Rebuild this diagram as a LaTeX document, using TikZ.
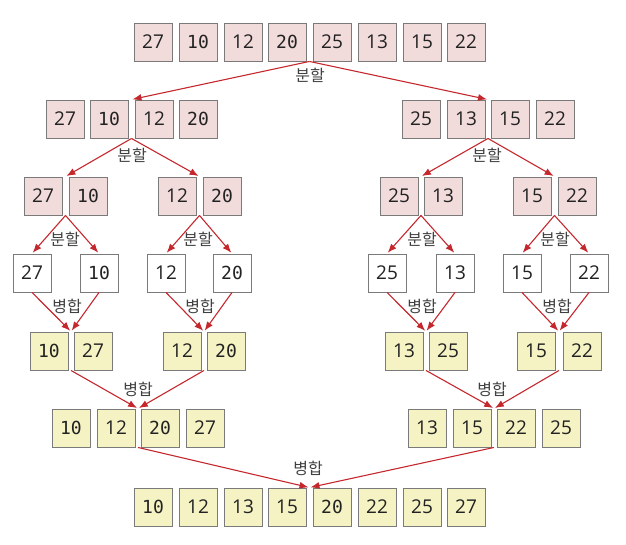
\documentclass[tikz,border=0pt]{standalone}
\usepackage{fontspec}
\setmainfont{Open Sans}
\newfontfamily\krfont{Noto Sans CJK KR}
\newfontfamily\monofont{DejaVu Sans Mono}
\usetikzlibrary{arrows.meta,calc}
\definecolor{pinkfill}{HTML}{F2DCDB}
\definecolor{yelfill}{HTML}{F5F3C4}
\definecolor{boxline}{HTML}{7A7A7A}
\definecolor{arrred}{HTML}{C4282D}
\definecolor{numtxt}{HTML}{222222}
\definecolor{lbltxt}{HTML}{404040}
\newcommand{\mz}[1]{{\monofont\fontsize{18}{18}\selectfont #1}}
\tikzset{
  cell/.style={draw=boxline, line width=0.9pt, minimum width=38pt, minimum height=38pt,
    inner sep=0pt, text=numtxt, font=\fontsize{19}{19}\selectfont},
  pk/.style={cell, fill=pinkfill},
  yl/.style={cell, fill=yelfill},
  wt/.style={cell, fill=white},
  lbl/.style={text=lbltxt, font=\krfont\fontsize{16}{16}\selectfont, inner sep=0pt},
  arr/.style={draw=arrred, line width=1.1pt, -{Latex[length=9pt,width=7pt]}, shorten >=1pt}
}
\begin{document}
\begin{tikzpicture}[x=1pt,y=-1pt]
\useasboundingbox (0,0) rectangle (626,544);
% row 1
\node[pk] (r1a) at (153,42) {27};
\node[pk] (r1b) at (198,42) {\mz{10}};
\node[pk] (r1c) at (243,42) {12};
\node[pk] (r1d) at (287,42) {\mz{20}};
\node[pk] (r1e) at (332,42) {25};
\node[pk] (r1f) at (377,42) {13};
\node[pk] (r1g) at (422,42) {15};
\node[pk] (r1h) at (466,42) {22};
% row 2
\node[pk] (r2a) at (65,119) {27};
\node[pk] (r2b) at (109,119) {\mz{10}};
\node[pk] (r2c) at (154,119) {12};
\node[pk] (r2d) at (198,119) {\mz{20}};
\node[pk] (r2e) at (421,119) {25};
\node[pk] (r2f) at (466,119) {13};
\node[pk] (r2g) at (510,119) {15};
\node[pk] (r2h) at (555,119) {22};
% row 3
\node[pk] (r3a) at (43,196) {27};
\node[pk] (r3b) at (88,196) {\mz{10}};
\node[pk] (r3c) at (177,196) {12};
\node[pk] (r3d) at (222,196) {\mz{20}};
\node[pk] (r3e) at (399,196) {25};
\node[pk] (r3f) at (443,196) {13};
\node[pk] (r3g) at (532,196) {15};
\node[pk] (r3h) at (577,196) {22};
% row 4
\node[wt] (r4a) at (32,273) {27};
\node[wt] (r4b) at (99,273) {\mz{10}};
\node[wt] (r4c) at (166,273) {12};
\node[wt] (r4d) at (232,273) {\mz{20}};
\node[wt] (r4e) at (387,273) {25};
\node[wt] (r4f) at (455,273) {13};
\node[wt] (r4g) at (522,273) {15};
\node[wt] (r4h) at (589,273) {22};
% row 5
\node[yl] (r5a) at (49,351) {\mz{10}};
\node[yl] (r5b) at (93,351) {27};
\node[yl] (r5c) at (182,351) {12};
\node[yl] (r5d) at (226,351) {\mz{20}};
\node[yl] (r5e) at (404,351) {13};
\node[yl] (r5f) at (448,351) {25};
\node[yl] (r5g) at (536,351) {15};
\node[yl] (r5h) at (582,351) {22};
% row 6
\node[yl] (r6a) at (71,428) {\mz{10}};
\node[yl] (r6b) at (116,428) {12};
\node[yl] (r6c) at (160,428) {\mz{20}};
\node[yl] (r6d) at (205,428) {27};
\node[yl] (r6e) at (427,428) {13};
\node[yl] (r6f) at (472,428) {15};
\node[yl] (r6g) at (516,428) {22};
\node[yl] (r6h) at (561,428) {25};
% row 7
\node[yl] (r7a) at (153,507) {\mz{10}};
\node[yl] (r7b) at (198,507) {12};
\node[yl] (r7c) at (243,507) {13};
\node[yl] (r7d) at (287,507) {15};
\node[yl] (r7e) at (332,507) {\mz{20}};
\node[yl] (r7f) at (377,507) {22};
\node[yl] (r7g) at (422,507) {25};
\node[yl] (r7h) at (466,507) {27};
% coordinates
\coordinate (s1) at ($(r1d.south east)!0.5!(r1e.south west)$);
\coordinate (t2l) at ($(r2b.north east)!0.5!(r2c.north west)$);
\coordinate (t2r) at ($(r2f.north east)!0.5!(r2g.north west)$);
\coordinate (s2l) at ($(r2b.south east)!0.5!(r2c.south west)$);
\coordinate (s2r) at ($(r2f.south east)!0.5!(r2g.south west)$);
\coordinate (t3a) at ($(r3a.north east)!0.5!(r3b.north west)$);
\coordinate (t3b) at ($(r3c.north east)!0.5!(r3d.north west)$);
\coordinate (t3c) at ($(r3e.north east)!0.5!(r3f.north west)$);
\coordinate (t3d) at ($(r3g.north east)!0.5!(r3h.north west)$);
\coordinate (s3a) at ($(r3a.south east)!0.5!(r3b.south west)$);
\coordinate (s3b) at ($(r3c.south east)!0.5!(r3d.south west)$);
\coordinate (s3c) at ($(r3e.south east)!0.5!(r3f.south west)$);
\coordinate (s3d) at ($(r3g.south east)!0.5!(r3h.south west)$);
\coordinate (t5a) at ($(r5a.north east)!0.5!(r5b.north west)$);
\coordinate (t5b) at ($(r5c.north east)!0.5!(r5d.north west)$);
\coordinate (t5c) at ($(r5e.north east)!0.5!(r5f.north west)$);
\coordinate (t5d) at ($(r5g.north east)!0.5!(r5h.north west)$);
\coordinate (s5a) at ($(r5a.south east)!0.5!(r5b.south west)$);
\coordinate (s5b) at ($(r5c.south east)!0.5!(r5d.south west)$);
\coordinate (s5c) at ($(r5e.south east)!0.5!(r5f.south west)$);
\coordinate (s5d) at ($(r5g.south east)!0.5!(r5h.south west)$);
\coordinate (t6l) at ($(r6b.north east)!0.5!(r6c.north west)$);
\coordinate (t6r) at ($(r6f.north east)!0.5!(r6g.north west)$);
\coordinate (s6l) at ($(r6b.south east)!0.5!(r6c.south west)$);
\coordinate (s6r) at ($(r6f.south east)!0.5!(r6g.south west)$);
\coordinate (t7) at ($(r7d.north east)!0.5!(r7e.north west)$);
% arrows: split
\draw[arr] (s1) -- (t2l);
\draw[arr] (s1) -- (t2r);
\draw[arr] (s2l) -- (t3a);
\draw[arr] (s2l) -- (t3b);
\draw[arr] (s2r) -- (t3c);
\draw[arr] (s2r) -- (t3d);
\draw[arr] (s3a) -- (r4a.north);
\draw[arr] (s3a) -- (r4b.north);
\draw[arr] (s3b) -- (r4c.north);
\draw[arr] (s3b) -- (r4d.north);
\draw[arr] (s3c) -- (r4e.north);
\draw[arr] (s3c) -- (r4f.north);
\draw[arr] (s3d) -- (r4g.north);
\draw[arr] (s3d) -- (r4h.north);
% arrows: merge
\draw[arr] (r4a.south) -- (t5a);
\draw[arr] (r4b.south) -- (t5a);
\draw[arr] (r4c.south) -- (t5b);
\draw[arr] (r4d.south) -- (t5b);
\draw[arr] (r4e.south) -- (t5c);
\draw[arr] (r4f.south) -- (t5c);
\draw[arr] (r4g.south) -- (t5d);
\draw[arr] (r4h.south) -- (t5d);
\draw[arr] (s5a) -- (t6l);
\draw[arr] (s5b) -- (t6l);
\draw[arr] (s5c) -- (t6r);
\draw[arr] (s5d) -- (t6r);
\draw[arr] (s6l) -- (t7);
\draw[arr] (s6r) -- (t7);
% labels
\node[lbl] (l1) at (310,75) {분할};
\node[lbl] (l2a) at (132,155) {분할};
\node[lbl] (l2b) at (487,155) {분할};
\node[lbl] (l3a) at (65,239) {분할};
\node[lbl] (l3b) at (198,239) {분할};
\node[lbl] (l3c) at (422,239) {분할};
\node[lbl] (l3d) at (555,239) {분할};
\node[lbl] (l4a) at (67,306) {병합};
\node[lbl] (l4b) at (200,306) {병합};
\node[lbl] (l4c) at (422,306) {병합};
\node[lbl] (l4d) at (557,306) {병합};
\node[lbl] (l5a) at (138,389) {병합};
\node[lbl] (l5b) at (492,389) {병합};
\node[lbl] (l6) at (308,468) {병합};
\end{tikzpicture}
\end{document}
